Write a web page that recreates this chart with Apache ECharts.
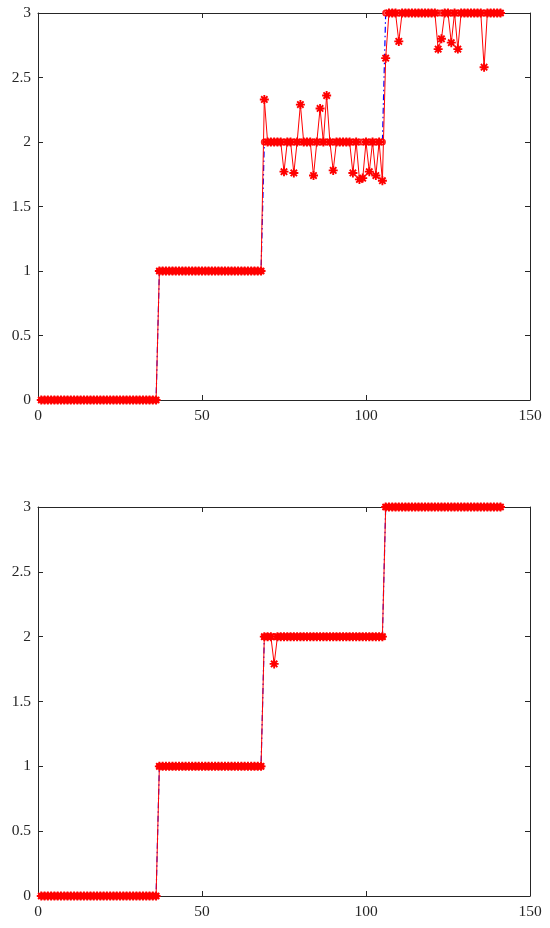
<!DOCTYPE html>
<html>
<head>
<meta charset="utf-8">
<script src="https://cdn.jsdelivr.net/npm/echarts@6/dist/echarts.min.js"></script>
<style>
html,body{margin:0;padding:0;background:#fff;}
#chart{width:550px;height:928px;}
</style>
</head>
<body>
<div id="chart"></div>
<script>
// ---- data ----
var xTicks = [0, 50, 100, 150];
var yTicks = [0, 0.5, 1, 1.5, 2, 2.5, 3];

var trueLabel = [
  0,0,0,0,0,0,0,0,0,0,
  0,0,0,0,0,0,0,0,0,0,
  0,0,0,0,0,0,0,0,0,0,
  0,0,0,0,0,0,1,1,1,1,
  1,1,1,1,1,1,1,1,1,1,
  1,1,1,1,1,1,1,1,1,1,
  1,1,1,1,1,1,1,1,2,2,
  2,2,2,2,2,2,2,2,2,2,
  2,2,2,2,2,2,2,2,2,2,
  2,2,2,2,2,2,2,2,2,2,
  2,2,2,2,2,3,3,3,3,3,
  3,3,3,3,3,3,3,3,3,3,
  3,3,3,3,3,3,3,3,3,3,
  3,3,3,3,3,3,3,3,3,3,
  3
];

var predTop = [
  0,0,0,0,0,0,0,0,0,0,
  0,0,0,0,0,0,0,0,0,0,
  0,0,0,0,0,0,0,0,0,0,
  0,0,0,0,0,0,1,1,1,1,
  1,1,1,1,1,1,1,1,1,1,
  1,1,1,1,1,1,1,1,1,1,
  1,1,1,1,1,1,1,1,2.33,2,
  2,2,2,2,1.77,2,2,1.76,2,2.29,
  2,2,2,1.74,2,2.26,2,2.36,2,1.78,
  2,2,2,2,2,1.76,2,1.71,1.72,2,
  1.77,2,1.74,2,1.70,2.65,3,3,3,2.78,
  3,3,3,3,3,3,3,3,3,3,
  3,2.72,2.80,3,3,2.77,3,2.72,3,3,
  3,3,3,3,3,2.58,3,3,3,3,
  3
];

var predBottom = [
  0,0,0,0,0,0,0,0,0,0,
  0,0,0,0,0,0,0,0,0,0,
  0,0,0,0,0,0,0,0,0,0,
  0,0,0,0,0,0,1,1,1,1,
  1,1,1,1,1,1,1,1,1,1,
  1,1,1,1,1,1,1,1,1,1,
  1,1,1,1,1,1,1,1,2,2,
  2,1.79,2,2,2,2,2,2,2,2,
  2,2,2,2,2,2,2,2,2,2,
  2,2,2,2,2,2,2,2,2,2,
  2,2,2,2,2,3,3,3,3,3,
  3,3,3,3,3,3,3,3,3,3,
  3,3,3,3,3,3,3,3,3,3,
  3,3,3,3,3,3,3,3,3,3,
  3
];

// ---- helpers ----
function pairs(arr){ return arr.map(function(v,i){ return [i+1, v]; }); }

// asterisk marker (8 spokes) as a path
function asteriskPath(){
  var w = 0.21, L = 1, rin = w/Math.sin(Math.PI/8);
  var pts = [];
  for (var k=0;k<8;k++){
    var a = k*Math.PI/4;
    var dx=Math.cos(a), dy=Math.sin(a), nx=-dy, ny=dx;
    pts.push([dx*L - nx*w, dy*L - ny*w]);
    pts.push([dx*L + nx*w, dy*L + ny*w]);
    var b = a + Math.PI/8;
    pts.push([Math.cos(b)*rin, Math.sin(b)*rin]);
  }
  var s = 'path://M' + pts.map(function(p){ return ((p[0]+1.1)*10).toFixed(3)+','+((p[1]+1.1)*10).toFixed(3); }).join('L') + 'Z';
  return s;
}
var STAR = asteriskPath();

var AX = '#262626';
var FONT = 'Liberation Serif';
var FS = 15.5;

function xAxes(gi){
  return [
    {gridIndex:gi, type:'value', min:0, max:150, interval:50, position:'bottom',
     axisLine:{show:true, onZero:false, lineStyle:{color:AX, width:1}},
     axisTick:{show:true, inside:true, length:5, lineStyle:{color:AX}},
     axisLabel:{show:true, color:AX, fontFamily:FONT, fontSize:FS, margin:8,
       formatter:function(v){ return xTicks.indexOf(v)>=0 ? String(v) : ''; }},
     splitLine:{show:false}},
    {gridIndex:gi, type:'value', min:0, max:150, interval:50, position:'top',
     axisLine:{show:true, onZero:false, lineStyle:{color:AX, width:1}},
     axisTick:{show:true, inside:true, length:5, lineStyle:{color:AX}},
     axisLabel:{show:false}, splitLine:{show:false}}
  ];
}
function yAxes(gi){
  return [
    {gridIndex:gi, type:'value', min:0, max:3, interval:0.5, position:'left',
     axisLine:{show:true, onZero:false, lineStyle:{color:AX, width:1}},
     axisTick:{show:true, inside:true, length:5, lineStyle:{color:AX}},
     axisLabel:{show:true, color:AX, fontFamily:FONT, fontSize:FS, margin:7,
       formatter:function(v){ return yTicks.indexOf(v)>=0 ? String(v) : ''; }},
     splitLine:{show:false}},
    {gridIndex:gi, type:'value', min:0, max:3, interval:0.5, position:'right',
     axisLine:{show:true, onZero:false, lineStyle:{color:AX, width:1}},
     axisTick:{show:true, inside:true, length:5, lineStyle:{color:AX}},
     axisLabel:{show:false}, splitLine:{show:false}}
  ];
}

function trueSeries(xi, yi){
  return {type:'line', xAxisIndex:xi, yAxisIndex:yi, data:pairs(trueLabel),
    symbol:'emptyCircle', symbolSize:5, showSymbol:true, animation:false,
    itemStyle:{color:'#ff2020', borderWidth:1},
    lineStyle:{color:'#0000ff', width:1.2, type:[6,3,1.5,3]}, z:2};
}
function predSeries(xi, yi, arr){
  return {type:'line', xAxisIndex:xi, yAxisIndex:yi, data:pairs(arr),
    symbol:STAR, symbolSize:9, showSymbol:true, animation:false,
    itemStyle:{color:'#ff0000'},
    lineStyle:{color:'#ff0000', width:1}, z:3};
}

var chart = echarts.init(document.getElementById('chart'), null, {renderer:'canvas'});
chart.setOption({
  animation:false,
  backgroundColor:'#fff',
  grid:[
    {left:38, top:13, width:492, height:387},
    {left:38, top:507, width:492, height:389}
  ],
  xAxis: xAxes(0).concat(xAxes(1)),
  yAxis: yAxes(0).concat(yAxes(1)),
  series:[
    trueSeries(0,0),
    predSeries(0,0,predTop),
    trueSeries(2,2),
    predSeries(2,2,predBottom)
  ]
});
</script>
</body>
</html>
